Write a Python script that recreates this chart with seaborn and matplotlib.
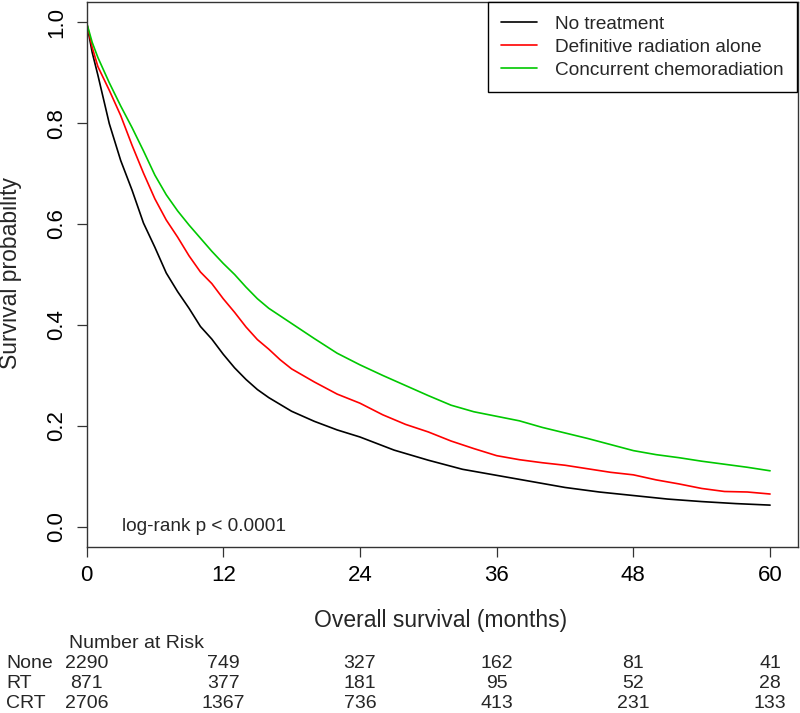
import numpy as np
import pandas as pd
import matplotlib
matplotlib.use("Agg")
import matplotlib.pyplot as plt
import matplotlib.transforms as mtransforms
from matplotlib.lines import Line2D
import seaborn as sns

# ---------------- data ----------------
months_none = [0, 0.5, 1, 2, 3, 4, 5, 6, 7, 8, 9, 10, 11, 12, 13, 14, 15, 16, 18, 20, 22, 24,
               27, 30, 33, 36, 39, 42, 45, 48, 51, 54, 57, 60]
surv_none = [1.0, 0.94, 0.895, 0.799, 0.726, 0.667, 0.602, 0.554, 0.503, 0.466, 0.433, 0.397,
             0.372, 0.342, 0.315, 0.292, 0.272, 0.256, 0.229, 0.209, 0.192, 0.178,
             0.152, 0.132, 0.114, 0.102, 0.090, 0.078, 0.069, 0.062, 0.055, 0.050, 0.046, 0.043]

months_rt = [0, 0.5, 1, 2, 3, 4, 5, 6, 7, 8, 9, 10, 11, 12, 13, 14, 15, 16, 17, 18, 20, 22, 24,
             26, 28, 30, 32, 34, 36, 38, 40, 42, 44, 46, 48, 50, 52, 54, 56, 58, 60]
surv_rt = [1.0, 0.95, 0.912, 0.865, 0.815, 0.756, 0.701, 0.650, 0.608, 0.574, 0.537, 0.505,
           0.482, 0.452, 0.425, 0.396, 0.371, 0.352, 0.331, 0.313, 0.287, 0.263, 0.245,
           0.222, 0.203, 0.188, 0.170, 0.155, 0.141, 0.133, 0.127, 0.122, 0.115, 0.108,
           0.103, 0.093, 0.085, 0.076, 0.070, 0.069, 0.065]

months_crt = [0, 0.5, 1, 2, 3, 4, 5, 6, 7, 8, 9, 10, 11, 12, 13, 14, 15, 16, 17, 18, 19, 20, 22,
              24, 26, 28, 30, 32, 34, 36, 38, 40, 42, 44, 46, 48, 50, 52, 54, 56, 58, 60]
surv_crt = [1.0, 0.96, 0.93, 0.880, 0.834, 0.791, 0.745, 0.697, 0.658, 0.626, 0.598, 0.572,
            0.546, 0.522, 0.500, 0.475, 0.452, 0.433, 0.418, 0.403, 0.388, 0.373, 0.344,
            0.321, 0.300, 0.280, 0.260, 0.241, 0.228, 0.219, 0.210, 0.197, 0.186, 0.175,
            0.163, 0.151, 0.143, 0.137, 0.130, 0.124, 0.118, 0.111]

group_labels = ["No treatment", "Definitive radiation alone", "Concurrent chemoradiation"]
group_colors = ["#000000", "#ff0000", "#00c800"]

risk_times = [0, 12, 24, 36, 48, 60]
risk_rows = ["None", "RT", "CRT"]
risk_none = [2290, 749, 327, 162, 81, 41]
risk_rt = [871, 377, 181, 95, 52, 28]
risk_crt = [2706, 1367, 736, 413, 231, 133]

x_ticks = [0, 12, 24, 36, 48, 60]
y_ticks = [0.0, 0.2, 0.4, 0.6, 0.8, 1.0]
y_ticklabels = ["0.0", "0.2", "0.4", "0.6", "0.8", "1.0"]

# ---------------- build frame ----------------
df = pd.concat([
    pd.DataFrame({"month": months_none, "surv": surv_none, "group": group_labels[0]}),
    pd.DataFrame({"month": months_rt, "surv": surv_rt, "group": group_labels[1]}),
    pd.DataFrame({"month": months_crt, "surv": surv_crt, "group": group_labels[2]}),
], ignore_index=True)

sns.set_style("ticks")
plt.rcParams["font.family"] = ["Liberation Sans", "DejaVu Sans"]

W, H = 800, 713
fig = plt.figure(figsize=(W / 100, H / 100), dpi=100)
ax = fig.add_axes([86.5 / W, 1 - 547 / H, (798 - 86.5) / W, (547 - 2) / H])

sns.lineplot(data=df, x="month", y="surv", hue="group", hue_order=group_labels,
             palette=dict(zip(group_labels, group_colors)), estimator=None,
             linewidth=1.2, legend=False, ax=ax)

ax.set_xlim(0, 62.45)
ax.set_ylim(-0.04, 1.04)
ax.set_xticks(x_ticks)
ax.set_xticklabels([str(t) for t in x_ticks])
ax.set_yticks(y_ticks)
ax.set_yticklabels(y_ticklabels, rotation=90, va="center")

for s in ax.spines.values():
    s.set_visible(True)
    s.set_color("#333333")
    s.set_linewidth(1.0)

ax.tick_params(axis="both", direction="out", length=7, width=0.9, color="#333333",
               labelsize=16, labelcolor="black")
ax.tick_params(axis="x", pad=6)
ax.tick_params(axis="y", pad=7)

ax.set_xlabel("")
ax.set_ylabel("")
fig.text(441 / W, 1 - 620 / H, "Overall survival (months)", ha="center", va="center",
         fontsize=16.5)
fig.text(11 / W, 1 - 273 / H, "Survival probability", ha="center", va="center",
         rotation=90, fontsize=16.5)

ax.text(3.1, 0.0, "log-rank p < 0.0001", ha="left", va="center", fontsize=13.7)

handles = [Line2D([0], [0], color=c, lw=1.2) for c in group_colors]
leg = ax.legend(handles, group_labels, loc="upper right", bbox_to_anchor=(0.9985, 1.0),
                borderaxespad=0.0, fontsize=13.7, frameon=True, fancybox=False,
                edgecolor="black", framealpha=1.0, handlelength=1.89,
                handletextpad=0.95, labelspacing=0.3, borderpad=0.7)
leg.get_frame().set_linewidth(1.0)

# ---------------- number at risk table ----------------
trans = mtransforms.blended_transform_factory(ax.transData, fig.transFigure)
fig.text(69 / W, 1 - 643 / H, "Number at Risk", ha="left", va="center", fontsize=14)
row_y = [663, 683, 704]
for lab, vals, yy in zip(risk_rows, [risk_none, risk_rt, risk_crt], row_y):
    fig.text(6 / W, 1 - yy / H, lab, ha="left", va="center", fontsize=14)
    for t, v in zip(risk_times, vals):
        ax.text(t, 1 - yy / H, str(v), transform=trans, ha="center", va="center",
                fontsize=14, clip_on=False)

fig.savefig("out.png", dpi=100)
